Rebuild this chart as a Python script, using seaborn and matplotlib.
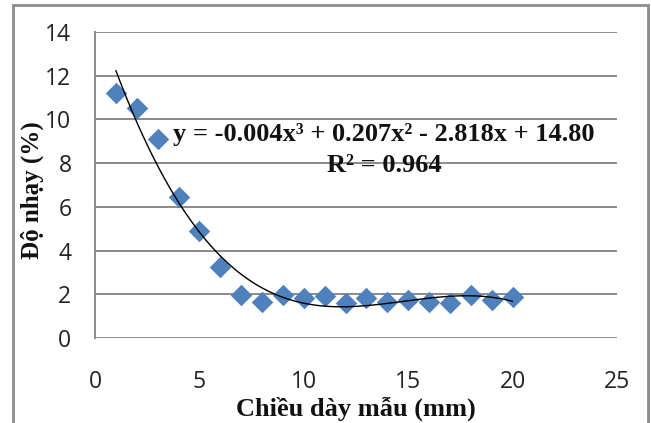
import numpy as np
import pandas as pd
import seaborn as sns
import matplotlib
matplotlib.use("Agg")
import matplotlib.pyplot as plt
from matplotlib.patches import Rectangle

# ---- data ----
thickness_mm = [1, 2, 3, 4, 5, 6, 7, 8, 9, 10, 11, 12, 13, 14, 15, 16, 17, 18, 19, 20]
sensitivity_pct = [11.2, 10.5, 9.1, 6.45, 4.9, 3.25, 1.95, 1.65, 1.98, 1.85,
                   1.9, 1.62, 1.82, 1.63, 1.74, 1.63, 1.6, 1.97, 1.72, 1.87]
x_ticks = [0, 5, 10, 15, 20, 25]
y_ticks = [0, 2, 4, 6, 8, 10, 12, 14]
equation_text = "y = -0.004x³ + 0.207x² - 2.818x + 14.80"
r2_text = "R² = 0.964"
x_label = "Chiều dày mẫu (mm)"
y_label = "Độ nhạy (%)"

df = pd.DataFrame({"x": thickness_mm, "y": sensitivity_pct})

sns.set_theme(style="white")
plt.rcParams["font.family"] = ["Open Sans", "DejaVu Sans"]

W, H = 651, 423
fig = plt.figure(figsize=(W / 100, H / 100), dpi=100)
fig.patch.set_facecolor("white")

# outer chart border
fig.patches.append(Rectangle((13 / W, -0.01), (648 - 13) / W, 1.0 - 5 / H + 0.01,
                             transform=fig.transFigure, fill=False,
                             edgecolor="#8c8c8c", linewidth=2, zorder=0))

ax = fig.add_axes([95 / W, 1 - 338 / H, (617 - 95) / W, (338 - 32) / H])
ax.set_xlim(0, 25)
ax.set_ylim(0, 14)

for yv in y_ticks:
    ax.axhline(yv, color="#8a8a8a", linewidth=1.4, zorder=1)

# cubic trend line fitted to the data
coef = np.polyfit(df["x"], df["y"], 3)
xs = np.linspace(min(thickness_mm), max(thickness_mm), 300)
trend = pd.DataFrame({"x": xs, "y": np.polyval(coef, xs)})

sns.scatterplot(data=df, x="x", y="y", marker="D", s=120, color="#4f81bd",
                edgecolor="#4f81bd", linewidth=0, ax=ax, zorder=3)
sns.lineplot(data=trend, x="x", y="y", color="black", linewidth=1.0, ax=ax, zorder=4)

ax.set_xticks(x_ticks)
ax.set_yticks(y_ticks)
ax.tick_params(axis="both", length=0, labelsize=16.5, colors="#222222")
ax.tick_params(axis="x", pad=23)
ax.tick_params(axis="y", pad=17)

for side in ["top", "right", "bottom"]:
    ax.spines[side].set_visible(False)
ax.spines["left"].set_color("#8a8a8a")
ax.spines["left"].set_linewidth(1.4)

serif = ["Liberation Serif", "DejaVu Serif"]
ax.set_xlabel("")
ax.set_ylabel("")
fig.text(356 / W, 1 - 409 / H, x_label, ha="center", va="center",
         fontsize=19, fontweight="bold", family=serif, color="#111111")
fig.text(32 / W, 1 - 190 / H, y_label, ha="center", va="center", rotation=90,
         fontsize=18, fontweight="bold", family=serif, color="#111111")

fig.text(384 / W, 1 - 135 / H, equation_text,
         ha="center", va="center", fontsize=19, fontweight="bold",
         family=serif, color="#111111", zorder=5)
fig.text(384 / W, 1 - 166 / H, r2_text,
         ha="center", va="center", fontsize=19, fontweight="bold",
         family=serif, color="#111111", zorder=5)

fig.savefig("out.png", dpi=100)
